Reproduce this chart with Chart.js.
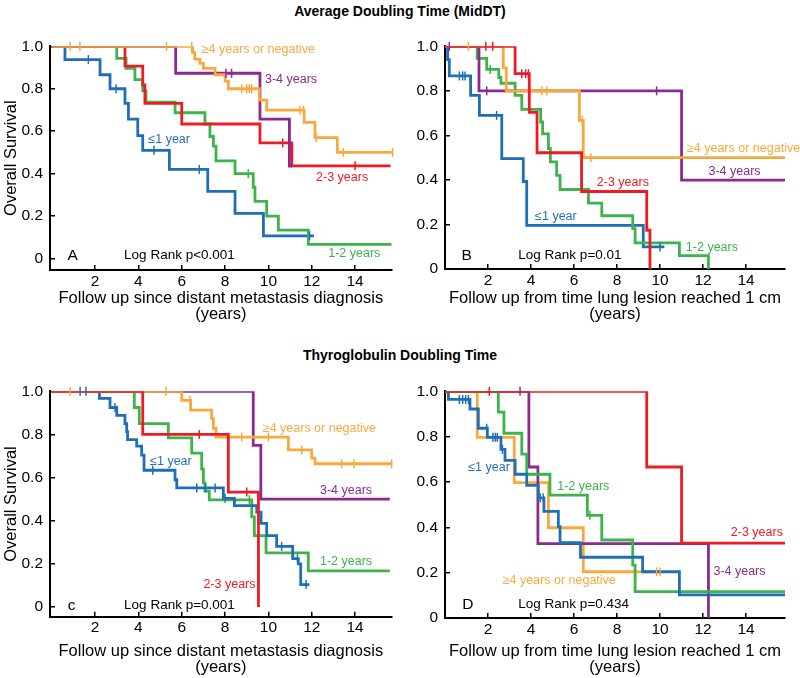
<!DOCTYPE html>
<html>
<head>
<meta charset="utf-8">
<script src="https://cdn.jsdelivr.net/npm/chart.js@4.4.1/dist/chart.umd.min.js"></script>
<style>
  body { margin: 0; background: #fff; }
  #page { position: relative; width: 800px; height: 678px; font-family: "Liberation Sans", Arial, sans-serif; }
  .title { position: absolute; left: 0; width: 800px; text-align: center; font-weight: bold; font-size: 14px; line-height: 16px; }
  canvas { position: absolute; }
</style>
</head>
<body>
<div id="page">
  <div class="title" style="top:3px">Average Doubling Time (MidDT)</div>
  <div class="title" style="top:347px">Thyroglobulin Doubling Time</div>
  <canvas id="cA" width="400" height="300" style="left:0;top:25px"></canvas>
  <canvas id="cB" width="400" height="300" style="left:400px;top:25px"></canvas>
  <canvas id="cC" width="400" height="308" style="left:0;top:370px"></canvas>
  <canvas id="cD" width="400" height="308" style="left:400px;top:370px"></canvas>
</div>
<script>
const xTicks = [2, 4, 6, 8, 10, 12, 14];
const yTicks = [0, 0.2, 0.4, 0.6, 0.8, 1.0];

// A: average doubling time, follow up since distant metastasis diagnosis
const aLe1Time = [0, 0.61, 2.23, 2.69, 3.38, 3.54, 3.97, 4.2, 5.43, 7.2, 8.46, 9.77, 12.1];
const aLe1Surv = [1, 0.937, 0.866, 0.8, 0.731, 0.657, 0.579, 0.51, 0.42, 0.316, 0.213, 0.107, 0.107];
const aLe1Cens = [1.69, 2.97, 4.72, 6.81, 11.9];
const aY12Time = [0, 3.0, 3.43, 3.84, 4.2, 4.35, 5.69, 7.07, 7.3, 7.46, 7.58, 8.46, 9.3, 9.38, 9.92, 10.46, 11.84, 15.69];
const aY12Surv = [1, 0.943, 0.896, 0.843, 0.79, 0.737, 0.687, 0.634, 0.575, 0.53, 0.46, 0.4, 0.336, 0.269, 0.2, 0.134, 0.067, 0.067];
const aY12Cens = [9.07];
const aY23Time = [0, 3.38, 4.2, 4.3, 6.0, 9.61, 11.08, 15.64];
const aY23Surv = [1, 0.907, 0.818, 0.731, 0.634, 0.545, 0.437, 0.437];
const aY23Cens = [10.66, 14.0];
const aY34Time = [0, 5.72, 9.61, 10.97, 11.1];
const aY34Surv = [1, 0.873, 0.657, 0.436, 0.436];
const aY34Cens = [8.04, 8.3];
const aGe4Time = [0, 6.5, 6.6, 6.84, 7.0, 7.54, 8.0, 8.15, 9.58, 9.92, 11.65, 12.15, 13.18, 15.73];
const aGe4Surv = [1, 0.97, 0.94, 0.92, 0.896, 0.866, 0.836, 0.8, 0.746, 0.699, 0.642, 0.57, 0.5, 0.5];
const aGe4Cens = [0.85, 1.3, 5.3, 6.46, 8.77, 9.0, 9.12, 9.23, 11.46, 11.62, 12.2, 13.46, 15.73];

// B: average doubling time, follow up from time lung lesion reached 1 cm
const bLe1Time = [0, 0.12, 0.2, 1.19, 1.6, 2.64, 3.64, 3.8, 9.22, 10.2];
const bLe1Surv = [1, 0.94, 0.867, 0.78, 0.69, 0.496, 0.393, 0.196, 0.099, 0.099];
const bLe1Cens = [0.67, 0.82, 0.93, 2.4, 10.0];
const bY12Time = [0, 1.5, 1.94, 2.5, 2.6, 3.26, 3.57, 4.45, 4.54, 4.81, 4.9, 5.19, 5.35, 6.67, 7.29, 8.73, 8.84, 10.9, 12.25];
const bY12Surv = [1, 0.946, 0.896, 0.86, 0.834, 0.78, 0.717, 0.66, 0.607, 0.541, 0.481, 0.42, 0.357, 0.296, 0.239, 0.181, 0.117, 0.06, 0];
const bY12Cens = [2.1];
const bY23Time = [0, 3.26, 3.92, 4.28, 6.35, 9.38, 9.53];
const bY23Surv = [1, 0.877, 0.703, 0.522, 0.348, 0.174, 0];
const bY23Cens = [1.9, 2.22, 3.57, 3.75, 3.88];
const bY34Time = [0, 1.58, 11.0, 15.81];
const bY34Surv = [1, 0.8, 0.399, 0.399];
const bY34Cens = [0.2, 1.94, 9.84];
const bGe4Time = [0, 2.71, 2.85, 6.25, 6.43, 15.81];
const bGe4Surv = [1, 0.903, 0.8, 0.667, 0.5, 0.5];
const bGe4Cens = [1.09, 4.5, 4.73, 6.38, 6.78];

// C: thyroglobulin doubling time, follow up since distant metastasis diagnosis
const cLe1Time = [0, 2.2, 2.69, 3.0, 3.38, 3.46, 3.5, 3.92, 4.15, 4.26, 5.69, 5.77, 7.92, 8.43, 9.46, 9.66, 9.92, 10.38, 11.12, 11.38, 11.49, 11.89];
const cLe1Surv = [1, 0.967, 0.925, 0.888, 0.85, 0.813, 0.776, 0.746, 0.704, 0.634, 0.59, 0.552, 0.504, 0.47, 0.44, 0.388, 0.331, 0.281, 0.224, 0.2, 0.104, 0.104];
const cLe1Cens = [1.31, 1.58, 2.92, 4.66, 6.69, 7.1, 7.54, 8.0, 10.61, 11.34, 11.74];
const cY12Time = [0, 3.81, 4.04, 5.38, 6.46, 6.92, 7.0, 7.07, 7.27, 9.23, 9.35, 9.89, 11.84, 15.6];
const cY12Surv = [1, 0.925, 0.85, 0.784, 0.713, 0.639, 0.575, 0.537, 0.497, 0.418, 0.331, 0.251, 0.167, 0.167];
const cY12Cens = [9.12];
const cY23Time = [0, 4.2, 8.15, 9.54];
const cY23Surv = [1, 0.8, 0.533, 0];
const cY23Cens = [6.81, 9.0];
const cY34Time = [0, 9.3, 9.65, 15.6];
const cY34Surv = [1, 0.749, 0.5, 0.5];
const cY34Cens = [];
const cGe4Time = [0, 6.0, 6.41, 7.38, 7.46, 7.58, 10.92, 12.0, 12.15, 15.69];
const cGe4Surv = [1, 0.958, 0.913, 0.873, 0.828, 0.788, 0.728, 0.69, 0.664, 0.664];
const cGe4Cens = [0.85, 5.27, 6.38, 8.77, 10.0, 11.54, 13.38, 13.95, 15.69];

// D: thyroglobulin doubling time, follow up from time lung lesion reached 1 cm
const dLe1Time = [0, 0.16, 1.16, 1.55, 1.97, 2.6, 2.79, 3.26, 3.8, 4.34, 4.6, 5.27, 5.35, 6.3, 9.19, 10.9, 15.81];
const dLe1Surv = [1, 0.964, 0.922, 0.837, 0.797, 0.744, 0.695, 0.634, 0.585, 0.53, 0.47, 0.403, 0.332, 0.268, 0.204, 0.102, 0.102];
const dLe1Cens = [0.67, 0.82, 0.96, 1.09, 1.94, 2.23, 2.34, 2.43, 2.67, 4.43, 4.57];
const dY12Time = [0, 2.48, 2.74, 3.57, 3.8, 4.88, 6.62, 7.29, 8.73, 8.84, 15.81];
const dY12Surv = [1, 0.908, 0.815, 0.723, 0.634, 0.542, 0.453, 0.344, 0.233, 0.116, 0.116];
const dY12Cens = [6.74];
const dY23Time = [0, 9.38, 11.0, 15.81];
const dY23Surv = [1, 0.666, 0.33, 0.33];
const dY23Cens = [2.06];
const dY34Time = [0, 3.9, 4.32, 12.25];
const dY34Surv = [1, 0.666, 0.328, 0];
const dY34Cens = [3.49];
const dGe4Time = [0, 1.5, 3.22, 4.81, 6.43, 10.0];
const dGe4Surv = [1, 0.797, 0.597, 0.398, 0.204, 0.204];
const dGe4Cens = [9.84, 10.0];

const BLUE = '#1f6fb8', GREEN = '#3cb44a', RED = '#ed1c24', PURPLE = '#8c2a8e', ORANGE = '#f9a93c';
const FONT = '"Liberation Sans", Arial, sans-serif';

Chart.defaults.font.family = FONT;
Chart.defaults.animation = false;

function curve(times, surv, color) {
  return {
    data: times.map((t, i) => ({ x: t, y: surv[i] })),
    borderColor: color, borderWidth: 2.8, stepped: true,
    pointRadius: 0, fill: false
  };
}

// censor ticks sit on the step value at that time
function censors(marks, times, surv, color) {
  return {
    data: marks.map(c => {
      let i = 0;
      while (i + 1 < times.length && times[i + 1] <= c) i++;
      return { x: c, y: surv[i] };
    }),
    showLine: false, clip: false,
    pointStyle: 'line', pointRotation: 90, pointRadius: 4.5,
    pointBorderColor: color, pointBorderWidth: 1.5, borderColor: color
  };
}

const notesPlugin = {
  id: 'notes',
  afterDatasetsDraw(chart, args, opts) {
    const { ctx } = chart;
    const xs = chart.scales.x, ys = chart.scales.y;
    ctx.save();
    ctx.textBaseline = 'middle';
    opts.items.forEach(n => {
      ctx.font = (n.size || 12.5) + 'px ' + FONT;
      ctx.fillStyle = n.color || '#000';
      ctx.textAlign = n.align || 'left';
      ctx.fillText(n.text, xs.getPixelForValue(n.x), ys.getPixelForValue(n.y));
    });
    ctx.restore();
  }
};

function makePanel(p) {
  new Chart(document.getElementById(p.id), {
    type: 'line',
    data: { datasets: p.datasets },
    plugins: [notesPlugin],
    options: {
      responsive: false,
      layout: { padding: { left: 0, top: p.top, right: p.right, bottom: 0 } },
      plugins: { legend: { display: false }, tooltip: { enabled: false }, notes: { items: p.notes } },
      scales: {
        x: {
          type: 'linear', min: p.xMin, max: p.xMax,
          afterBuildTicks: s => { s.ticks = xTicks.map(v => ({ value: v })); },
          afterFit: s => { s.height = p.xHeight; },
          grid: { drawOnChartArea: false, tickLength: -5, color: '#000', lineWidth: 1.5 },
          border: { color: '#000', width: 2 },
          ticks: { color: '#000', font: { size: 15.5 }, padding: 7, maxRotation: 0, autoSkip: false },
          title: {
            display: true, text: [p.xTitle, '(years)'], color: '#000',
            font: { size: 16.5, lineHeight: '16px' }, padding: { top: 0, bottom: p.titlePad }
          }
        },
        y: {
          type: 'linear', min: p.yMin, max: 1,
          afterBuildTicks: s => { s.ticks = yTicks.map(v => ({ value: v })); },
          afterFit: s => { s.width = p.left; },
          grid: { drawOnChartArea: false, tickLength: -5, color: '#000', lineWidth: 1.5 },
          border: { color: '#000', width: 2 },
          ticks: { color: '#000', font: { size: 15.5 }, padding: 12, callback: v => v === 0 ? '0' : v.toFixed(1) },
          title: { display: p.yTitle, text: 'Overall Survival', color: '#000', font: { size: 16.5 }, padding: { top: 2, bottom: 0 } }
        }
      }
    }
  });
}

makePanel({
  id: 'cA', top: 10, right: 8.3, left: 50, xHeight: 55, xMin: -0.08, xMax: 15.69, yMin: -0.054,
  yTitle: true, titlePad: 3, xTitle: 'Follow up since distant metastasis diagnosis',
  datasets: [
    censors(aGe4Cens, aGe4Time, aGe4Surv, ORANGE), censors(aY34Cens, aY34Time, aY34Surv, PURPLE),
    censors(aY23Cens, aY23Time, aY23Surv, RED), censors(aY12Cens, aY12Time, aY12Surv, GREEN),
    censors(aLe1Cens, aLe1Time, aLe1Surv, BLUE),
    curve(aGe4Time, aGe4Surv, ORANGE), curve(aY34Time, aY34Surv, PURPLE), curve(aY23Time, aY23Surv, RED),
    curve(aY12Time, aY12Surv, GREEN), curve(aLe1Time, aLe1Surv, BLUE)
  ],
  notes: [
    { text: '≥4 years or negative', x: 6.92, y: 0.987, color: ORANGE },
    { text: '3-4 years', x: 9.84, y: 0.844, color: PURPLE },
    { text: '2-3 years', x: 12.2, y: 0.381, color: RED },
    { text: '1-2 years', x: 12.76, y: 0.022, color: GREEN },
    { text: '≤1 year', x: 4.46, y: 0.56, color: BLUE },
    { text: 'A', x: 0.97, y: 0.015, align: 'center', size: 15.5 },
    { text: 'Log Rank p<0.001', x: 3.34, y: 0.015, size: 13.5 }
  ]
});

makePanel({
  id: 'cB', top: 10.7, right: 15, left: 45, xHeight: 56, xMin: 0, xMax: 15.81, yMin: 0,
  yTitle: false, titlePad: 3, xTitle: 'Follow up from time lung lesion reached 1 cm',
  datasets: [
    censors(bY23Cens, bY23Time, bY23Surv, RED), censors(bGe4Cens, bGe4Time, bGe4Surv, ORANGE),
    censors(bY34Cens, bY34Time, bY34Surv, PURPLE), censors(bY12Cens, bY12Time, bY12Surv, GREEN),
    censors(bLe1Cens, bLe1Time, bLe1Surv, BLUE),
    curve(bY23Time, bY23Surv, RED), curve(bGe4Time, bGe4Surv, ORANGE), curve(bY34Time, bY34Surv, PURPLE),
    curve(bY12Time, bY12Surv, GREEN), curve(bLe1Time, bLe1Surv, BLUE)
  ],
  notes: [
    { text: '≥4 years or negative', x: 11.25, y: 0.539, color: ORANGE },
    { text: '3-4 years', x: 12.25, y: 0.438, color: PURPLE },
    { text: '2-3 years', x: 7.06, y: 0.389, color: RED },
    { text: '1-2 years', x: 11.2, y: 0.096, color: GREEN },
    { text: '≤1 year', x: 4.19, y: 0.236, color: BLUE },
    { text: 'B', x: 1.01, y: 0.06, align: 'center', size: 15.5 },
    { text: 'Log Rank p=0.01', x: 3.41, y: 0.06, size: 13.5 }
  ]
});

makePanel({
  id: 'cC', top: 13.3, right: 8.3, left: 50, xHeight: 61.3, xMin: -0.08, xMax: 15.69, yMin: -0.045,
  yTitle: true, titlePad: 2.7, xTitle: 'Follow up since distant metastasis diagnosis',
  datasets: [
    censors(cY23Cens, cY23Time, cY23Surv, RED), censors(cGe4Cens, cGe4Time, cGe4Surv, ORANGE),
    censors(cY34Cens, cY34Time, cY34Surv, PURPLE), censors(cY12Cens, cY12Time, cY12Surv, GREEN),
    censors(cLe1Cens, cLe1Time, cLe1Surv, BLUE),
    curve(cY23Time, cY23Surv, RED), curve(cGe4Time, cGe4Surv, ORANGE), curve(cY34Time, cY34Surv, PURPLE),
    curve(cLe1Time, cLe1Surv, BLUE), curve(cY12Time, cY12Surv, GREEN)
  ],
  notes: [
    { text: '≥4 years or negative', x: 9.74, y: 0.828, color: ORANGE },
    { text: '3-4 years', x: 12.38, y: 0.542, color: PURPLE },
    { text: '1-2 years', x: 12.38, y: 0.209, color: GREEN },
    { text: '2-3 years', x: 7.0, y: 0.105, color: RED },
    { text: '≤1 year', x: 4.54, y: 0.675, color: BLUE },
    { text: 'c', x: 0.92, y: 0.008, align: 'center', size: 15.5 },
    { text: 'Log Rank p=0.001', x: 3.34, y: 0.008, size: 13.5 }
  ]
});

makePanel({
  id: 'cD', top: 13.3, right: 15, left: 45, xHeight: 60, xMin: 0, xMax: 15.81, yMin: 0,
  yTitle: false, titlePad: 2.7, xTitle: 'Follow up from time lung lesion reached 1 cm',
  datasets: [
    censors(dY23Cens, dY23Time, dY23Surv, RED), censors(dLe1Cens, dLe1Time, dLe1Surv, BLUE),
    censors(dY12Cens, dY12Time, dY12Surv, GREEN), censors(dY34Cens, dY34Time, dY34Surv, PURPLE),
    censors(dGe4Cens, dGe4Time, dGe4Surv, ORANGE),
    curve(dY23Time, dY23Surv, RED), curve(dLe1Time, dLe1Surv, BLUE), curve(dY12Time, dY12Surv, GREEN),
    curve(dY34Time, dY34Surv, PURPLE), curve(dGe4Time, dGe4Surv, ORANGE)
  ],
  notes: [
    { text: '≤1 year', x: 1.08, y: 0.662, color: BLUE },
    { text: '1-2 years', x: 5.22, y: 0.581, color: GREEN },
    { text: '≥4 years or negative', x: 2.68, y: 0.165, color: ORANGE },
    { text: '2-3 years', x: 13.29, y: 0.375, color: RED },
    { text: '3-4 years', x: 12.48, y: 0.207, color: PURPLE },
    { text: 'D', x: 1.06, y: 0.06, align: 'center', size: 15.5 },
    { text: 'Log Rank p=0.434', x: 3.41, y: 0.06, size: 13.5 }
  ]
});
</script>
</body>
</html>
